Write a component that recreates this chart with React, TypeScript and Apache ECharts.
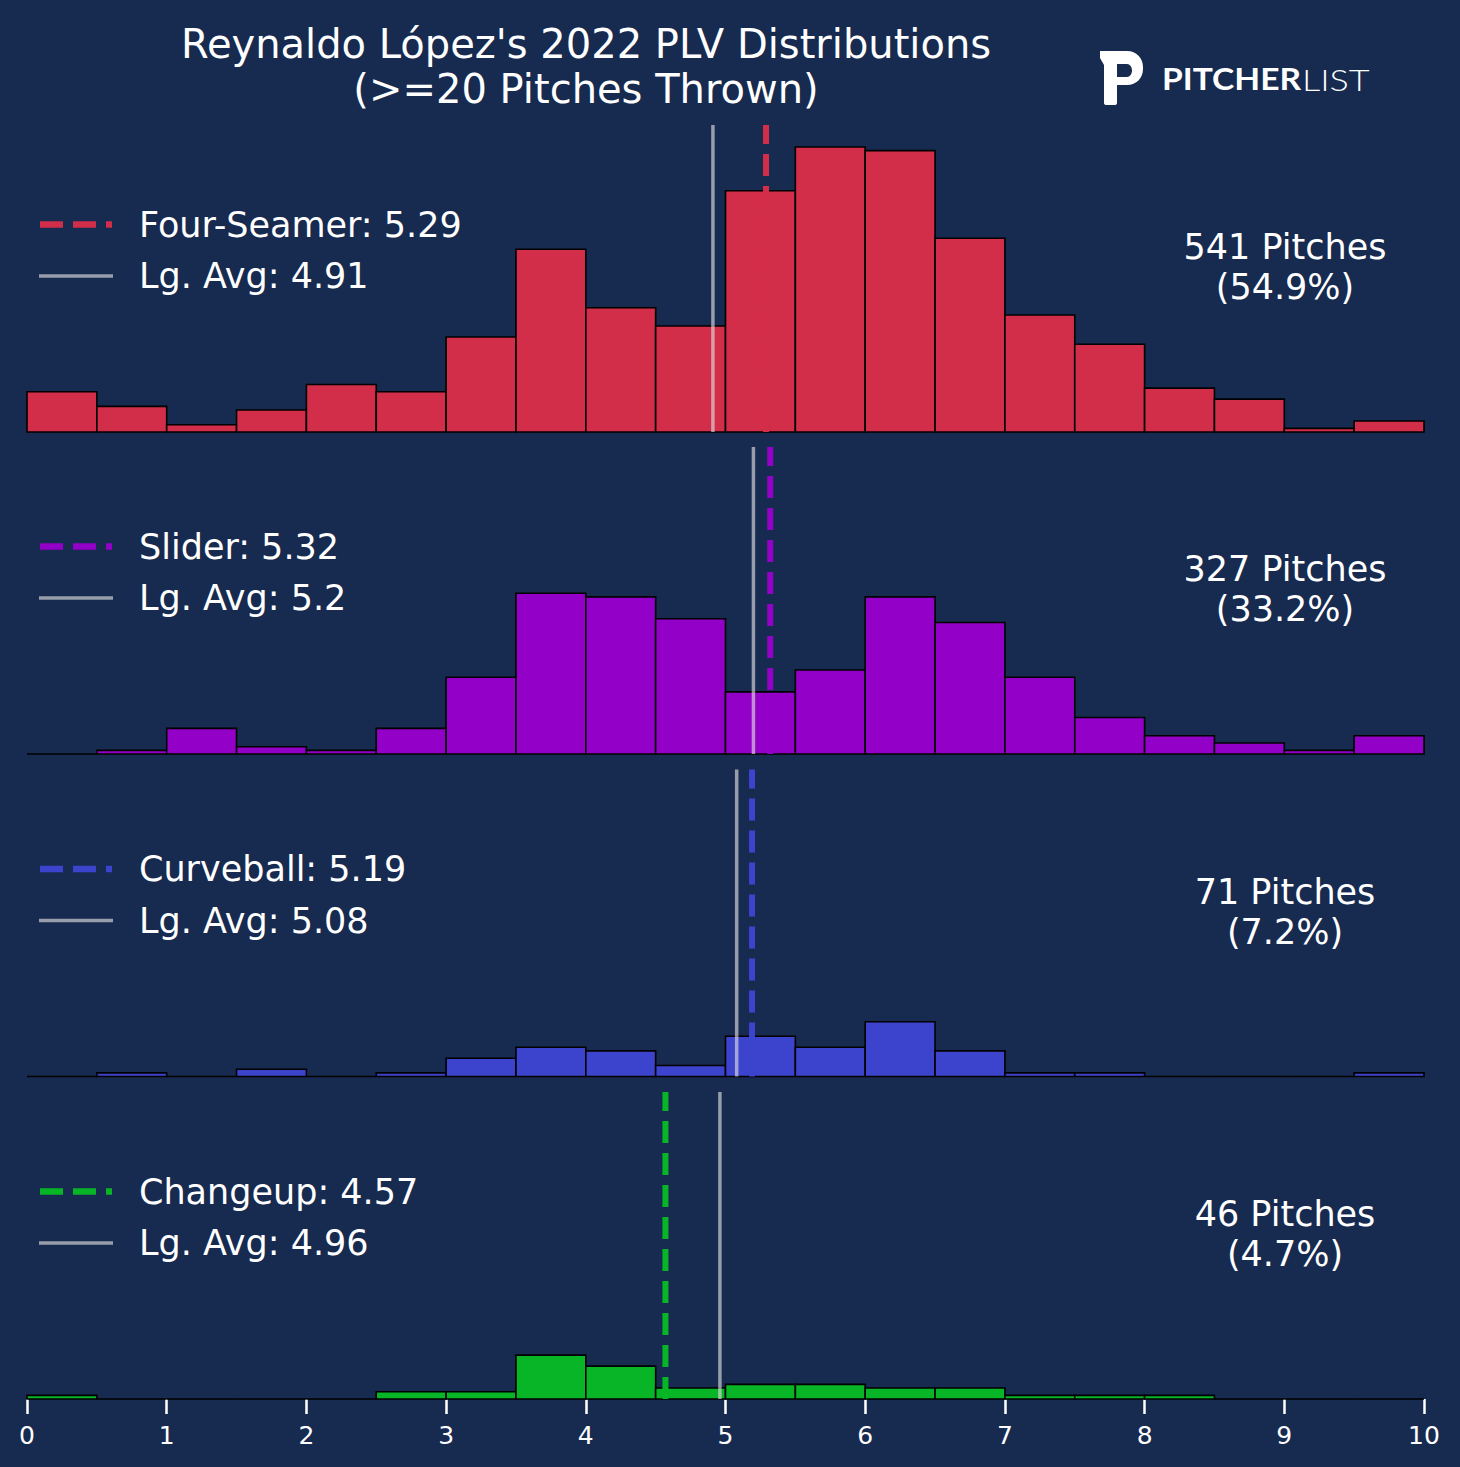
import React, { useEffect, useRef } from 'react';
import * as echarts from 'echarts';

// histogram bins (PLV, 0.5 wide)
const BIN_EDGES = [0, 0.5, 1, 1.5, 2, 2.5, 3, 3.5, 4, 4.5, 5, 5.5, 6, 6.5, 7, 7.5, 8, 8.5, 9, 9.5, 10];

const PITCH_NAMES = ['Four-Seamer', 'Slider', 'Curveball', 'Changeup'];
const PITCH_COLORS = ['#D22D49', '#9300C7', '#3C44CD', '#07B526'];
const PITCH_AVG = [5.29, 5.32, 5.19, 4.57];
const LEAGUE_AVG = [4.91, 5.2, 5.08, 4.96];
const PITCH_COUNTS = [541, 327, 71, 46];
const PITCH_SHARE = ['54.9%', '33.2%', '7.2%', '4.7%'];

// pitches per bin
const FOUR_SEAMER = [11, 7, 2, 6, 13, 11, 26, 50, 34, 29, 66, 78, 77, 53, 32, 24, 12, 9, 1, 3];
const SLIDER = [0, 1, 7, 2, 1, 7, 21, 44, 43, 37, 17, 23, 43, 36, 21, 10, 5, 3, 1, 5];
const CURVEBALL = [0, 1, 0, 2, 0, 1, 5, 8, 7, 3, 11, 8, 15, 7, 1, 1, 0, 0, 0, 1];
const CHANGEUP = [1, 0, 0, 0, 0, 2, 2, 12, 9, 3, 4, 4, 3, 3, 1, 1, 1, 0, 0, 0];
const BIN_COUNTS = [FOUR_SEAMER, SLIDER, CURVEBALL, CHANGEUP];

const X_MIN = 0;
const X_MAX = 10;
const Y_MAX = 84;

const TITLE = "Reynaldo López's 2022 PLV Distributions\n(>=20 Pitches Thrown)";
const FONT = '"DejaVu Sans", sans-serif';
const BG = '#172A4F';
const LG_GREY = 'rgba(220,220,220,0.65)';

// panel layout (px)
const GRID_LEFT = 27;
const GRID_WIDTH = 1397;
const GRID_TOPS = [125, 447, 769.5, 1092];
const GRID_HEIGHT = 307;

// Pitcher List "P" mark
const LOGO_P =
  'M0,0 L27,0 C36.5,0 43,7 43,16 L43,18 C43,27 36.5,34 27,34 L17,34 L17,52 C17,53.5 16,54 14.5,54 ' +
  'L6.5,54 C5,54 4,53.5 4,52 L4,14 L0,7 Z ' +
  'M17,13 L17,26 L27,26 C30,26 32,23 32,19.5 C32,16 30,13 27,13 Z';
echarts.graphic.registerShape('plLogo', echarts.graphic.extendPath(LOGO_P, {}) as any);

const App: React.FC = () => {
  const chartRef = useRef<HTMLDivElement | null>(null);

  useEffect(() => {
    document.body.style.margin = '0';
    document.body.style.background = BG;
    if (!chartRef.current) return;
    const chart = echarts.init(chartRef.current, null, { renderer: 'svg' });

    const grids = GRID_TOPS.map((top) => ({ left: GRID_LEFT, width: GRID_WIDTH, top, height: GRID_HEIGHT }));

    const xAxes = GRID_TOPS.map((_, i) => {
      const bottom = i === GRID_TOPS.length - 1;
      return {
        type: 'value',
        gridIndex: i,
        min: X_MIN,
        max: X_MAX,
        interval: 1,
        show: bottom,
        axisLine: { show: false },
        axisTick: { show: bottom, length: 15, lineStyle: { color: '#ffffff', width: 2.5 } },
        axisLabel: { show: bottom, color: '#ffffff', fontSize: 25, fontFamily: FONT, margin: 24 },
        splitLine: { show: false },
      };
    });

    const yAxes = GRID_TOPS.map((_, i) => ({ type: 'value', gridIndex: i, min: 0, max: Y_MAX, show: false }));

    const series: any[] = [];
    BIN_COUNTS.forEach((counts, i) => {
      const color = PITCH_COLORS[i];
      series.push({
        type: 'custom',
        xAxisIndex: i,
        yAxisIndex: i,
        encode: { x: [0, 1], y: 2 },
        data: counts.map((c, b) => [BIN_EDGES[b], BIN_EDGES[b + 1], c]),
        renderItem: (params: any, api: any) => {
          const p0 = api.coord([api.value(0), api.value(2)]);
          const p1 = api.coord([api.value(1), 0]);
          return {
            type: 'rect',
            shape: { x: p0[0], y: p0[1], width: p1[0] - p0[0], height: p1[1] - p0[1] },
            style: { fill: color, stroke: '#000000', lineWidth: 1.6 },
          };
        },
        z: 2,
      });
      // league average
      series.push({
        type: 'line',
        xAxisIndex: i,
        yAxisIndex: i,
        data: [[LEAGUE_AVG[i], 0], [LEAGUE_AVG[i], Y_MAX]],
        symbol: 'none',
        lineStyle: { color: LG_GREY, width: 3.5 },
        z: 3,
      });
      // pitch average
      series.push({
        type: 'line',
        xAxisIndex: i,
        yAxisIndex: i,
        data: [[PITCH_AVG[i], 0], [PITCH_AVG[i], Y_MAX]],
        symbol: 'none',
        lineStyle: { color, width: 6, type: [22, 10] },
        z: 4,
      });
    });

    const graphics: any[] = [
      {
        type: 'text',
        x: 586,
        y: 66.5,
        style: {
          text: TITLE,
          fontFamily: FONT,
          fontSize: 40,
          lineHeight: 45,
          fill: '#ffffff',
          align: 'center',
          verticalAlign: 'middle',
        },
      },
      { type: 'plLogo', x: 1100, y: 51, style: { fill: '#ffffff' } },
      {
        type: 'text',
        x: 1162,
        y: 79,
        scaleX: 1.12,
        style: { text: 'PITCHER', fontFamily: 'Lato', fontWeight: 'bold', fontSize: 30, fill: '#ffffff', verticalAlign: 'middle' },
      },
      {
        type: 'text',
        x: 1302,
        y: 79,
        scaleX: 1.2,
        style: { text: 'LIST', fontFamily: 'Lato', fontWeight: 300, fontSize: 30, fill: '#ffffff', verticalAlign: 'middle' },
      },
    ];

    GRID_TOPS.forEach((top, i) => {
      const y1 = top + 99.5;
      const y2 = top + 151;
      graphics.push(
        {
          type: 'line',
          shape: { x1: 40, y1, x2: 112, y2: y1 },
          style: { stroke: PITCH_COLORS[i], lineWidth: 6.5, lineDash: [23, 10] },
        },
        {
          type: 'text',
          x: 139,
          y: y1,
          style: { text: `${PITCH_NAMES[i]}: ${PITCH_AVG[i]}`, fontFamily: FONT, fontSize: 35, fill: '#ffffff', verticalAlign: 'middle' },
        },
        {
          type: 'line',
          shape: { x1: 39, y1: y2, x2: 113, y2 },
          style: { stroke: LG_GREY, lineWidth: 3.5 },
        },
        {
          type: 'text',
          x: 139,
          y: y2,
          style: { text: `Lg. Avg: ${LEAGUE_AVG[i]}`, fontFamily: FONT, fontSize: 35, fill: '#ffffff', verticalAlign: 'middle' },
        },
        {
          type: 'text',
          x: 1285,
          y: top + 142,
          style: {
            text: `${PITCH_COUNTS[i]} Pitches\n(${PITCH_SHARE[i]})`,
            fontFamily: FONT,
            fontSize: 35,
            lineHeight: 40,
            fill: '#ffffff',
            align: 'center',
            verticalAlign: 'middle',
          },
        }
      );
    });

    chart.setOption({
      animation: false,
      backgroundColor: BG,
      grid: grids,
      xAxis: xAxes,
      yAxis: yAxes,
      series,
      graphic: graphics,
    });

    return () => {
      chart.dispose();
    };
  }, []);

  return <div ref={chartRef} style={{ width: '1460px', height: '1467px', backgroundColor: BG }} />;
};

export default App;
